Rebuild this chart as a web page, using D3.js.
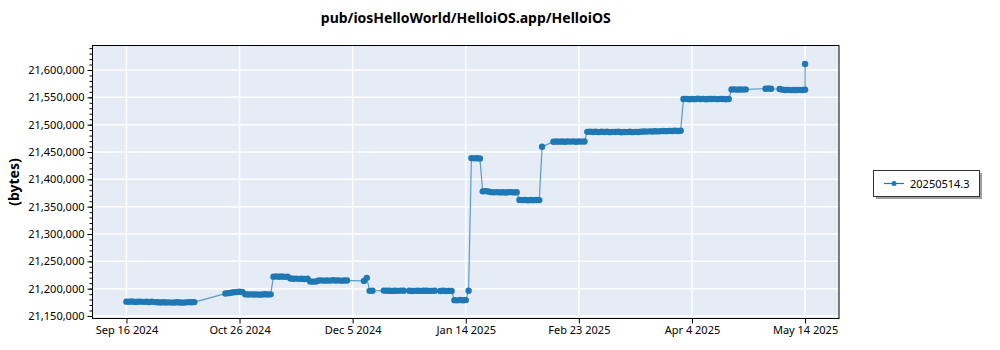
<!DOCTYPE html>
<html>
<head>
<meta charset="utf-8">
<script src="https://cdn.jsdelivr.net/npm/d3@7"></script>
<style>
  body { margin: 0; background: #fff; }
  svg { display: block; font-family: "Noto Sans", "Open Sans", sans-serif; }
</style>
</head>
<body>
<svg id="chart" width="1000" height="350"></svg>
<script>
const TITLE = "pub/iosHelloWorld/HelloiOS.app/HelloiOS";
const Y_LABEL = "(bytes)";
const SERIES_NAME = "20250514.3";

const X_TICKS = ["2024-09-16", "2024-10-26", "2024-12-05", "2025-01-14", "2025-02-23", "2025-04-04", "2025-05-14"];
const Y_TICKS = [21150000, 21200000, 21250000, 21300000, 21350000, 21400000, 21450000, 21500000, 21550000, 21600000];

// one build per entry, dates and sizes in the same order
const dates = [
  "2024-09-16", "2024-09-17", "2024-09-18", "2024-09-19", "2024-09-20", "2024-09-21", "2024-09-22", "2024-09-23",
  "2024-09-24", "2024-09-25", "2024-09-26", "2024-09-27", "2024-09-28", "2024-09-29", "2024-09-30",
  "2024-10-01", "2024-10-02", "2024-10-03", "2024-10-04", "2024-10-05", "2024-10-06", "2024-10-07", "2024-10-08",
  "2024-10-09", "2024-10-10",
  "2024-10-21", "2024-10-22", "2024-10-23", "2024-10-24", "2024-10-25", "2024-10-26", "2024-10-27",
  "2024-10-28", "2024-10-29", "2024-10-30", "2024-10-31", "2024-11-01", "2024-11-02", "2024-11-03", "2024-11-04",
  "2024-11-05", "2024-11-06",
  "2024-11-07", "2024-11-08", "2024-11-09", "2024-11-10", "2024-11-11", "2024-11-12",
  "2024-11-13", "2024-11-14", "2024-11-15", "2024-11-16", "2024-11-17", "2024-11-18", "2024-11-19",
  "2024-11-20", "2024-11-21", "2024-11-22",
  "2024-11-23", "2024-11-24", "2024-11-25", "2024-11-26", "2024-11-27", "2024-11-28", "2024-11-29", "2024-11-30",
  "2024-12-01", "2024-12-02", "2024-12-03",
  "2024-12-09", "2024-12-10",
  "2024-12-11", "2024-12-12",
  "2024-12-16", "2024-12-17", "2024-12-18", "2024-12-19", "2024-12-20", "2024-12-21", "2024-12-22", "2024-12-23",
  "2024-12-25", "2024-12-26", "2024-12-27", "2024-12-28", "2024-12-29", "2024-12-30", "2024-12-31",
  "2025-01-01", "2025-01-02", "2025-01-03",
  "2025-01-05", "2025-01-06", "2025-01-07", "2025-01-08", "2025-01-09",
  "2025-01-10", "2025-01-11", "2025-01-12", "2025-01-13", "2025-01-14",
  "2025-01-15",
  "2025-01-16", "2025-01-17", "2025-01-18", "2025-01-19",
  "2025-01-20", "2025-01-21", "2025-01-22", "2025-01-23", "2025-01-24", "2025-01-25", "2025-01-26", "2025-01-27",
  "2025-01-28", "2025-01-29", "2025-01-30", "2025-01-31", "2025-02-01",
  "2025-02-02", "2025-02-03", "2025-02-04", "2025-02-05", "2025-02-06", "2025-02-07", "2025-02-08", "2025-02-09",
  "2025-02-10",
  "2025-02-14", "2025-02-15", "2025-02-16", "2025-02-17", "2025-02-18", "2025-02-19", "2025-02-20", "2025-02-21",
  "2025-02-22", "2025-02-23", "2025-02-24", "2025-02-25",
  "2025-02-26", "2025-02-27", "2025-02-28",
  "2025-03-01", "2025-03-02", "2025-03-03", "2025-03-04", "2025-03-05", "2025-03-06", "2025-03-07", "2025-03-08",
  "2025-03-09", "2025-03-10", "2025-03-11", "2025-03-12", "2025-03-13", "2025-03-14", "2025-03-15", "2025-03-16",
  "2025-03-17", "2025-03-18", "2025-03-19", "2025-03-20", "2025-03-21", "2025-03-22", "2025-03-23", "2025-03-24",
  "2025-03-25", "2025-03-26", "2025-03-27", "2025-03-28", "2025-03-29", "2025-03-30", "2025-03-31",
  "2025-04-01", "2025-04-02", "2025-04-03", "2025-04-04", "2025-04-05", "2025-04-06", "2025-04-07", "2025-04-08",
  "2025-04-09", "2025-04-10", "2025-04-11", "2025-04-12", "2025-04-13", "2025-04-14", "2025-04-15", "2025-04-16",
  "2025-04-17",
  "2025-04-18", "2025-04-19", "2025-04-20", "2025-04-21", "2025-04-22", "2025-04-23",
  "2025-04-30", "2025-05-01", "2025-05-02",
  "2025-05-05", "2025-05-06", "2025-05-07", "2025-05-08", "2025-05-09", "2025-05-10", "2025-05-11", "2025-05-12",
  "2025-05-13", "2025-05-14",
  "2025-05-14"
];

const sizes = [
  21176200, 21176000, 21176400, 21175800, 21176100, 21176300, 21175900, 21176000,
  21175700, 21176200, 21175400, 21175100, 21174800, 21175000, 21174600,
  21174900, 21174500, 21174700, 21175200, 21174800, 21174400, 21174900, 21175300,
  21175000, 21175400,
  21191000, 21191800, 21192600, 21193400, 21194000, 21194300, 21193900,
  21189800, 21189300, 21189600, 21189200, 21189500, 21189000, 21189400, 21189700,
  21189300, 21189600,
  21222000, 21222400, 21221800, 21222200, 21221600, 21222000,
  21218600, 21218200, 21218400, 21217900, 21218100, 21217700, 21218000,
  21213200, 21212800, 21213000,
  21214800, 21215200, 21214600, 21215000, 21214700, 21215300, 21214900, 21215100,
  21214600, 21215000, 21214800,
  21214200, 21219800,
  21196000, 21196200,
  21196400, 21196100, 21196300, 21195900, 21196200, 21196000, 21196400, 21196100,
  21196300, 21195800, 21196000, 21196200, 21195900, 21196100, 21196300,
  21195900, 21196000, 21196200,
  21195800, 21196100, 21195700, 21196000, 21195600,
  21179000, 21178600, 21179200, 21178800, 21179100,
  21196200,
  21438800, 21438400, 21438600, 21438200,
  21378000, 21378400, 21377600, 21376500, 21376200, 21376600, 21376100, 21376400,
  21376000, 21376300, 21376500, 21376100, 21376400,
  21362400, 21362000, 21362300, 21361800, 21362200, 21361900, 21362100, 21362000,
  21459500,
  21468800, 21469200, 21468900, 21469300, 21468700, 21469100, 21469000, 21469400,
  21468800, 21469200, 21469000, 21469300,
  21486800, 21487200, 21486500,
  21487000, 21486400, 21486900, 21486600, 21487100, 21486300, 21486800, 21486500,
  21487000, 21486200, 21486700, 21486400, 21486900, 21486300, 21486800, 21486600,
  21487200, 21487500, 21487300, 21487800, 21487600, 21488000, 21487700, 21488200,
  21488400, 21488100, 21488600, 21488300, 21488800, 21488500, 21488900,
  21546800, 21547200, 21546600, 21547000, 21546700, 21547300, 21546900, 21547100,
  21546500, 21547000, 21546800, 21547200, 21546700, 21547100, 21546900, 21546600,
  21547000,
  21564200, 21564600, 21564000, 21564400, 21564100, 21564500,
  21565800, 21566200, 21565600,
  21565200, 21564000, 21563400, 21563600, 21563200, 21563500, 21563300, 21563600,
  21563400, 21563800,
  21611000
];

const COLOR = "#1f77b4";
const PLOT_BG = "#e5ecf6";

const parseDate = d3.timeParse("%Y-%m-%d");
const points = dates.map((d, i) => ({ date: parseDate(d), size: sizes[i] }));
if (dates.length !== sizes.length) console.warn("dates/sizes length mismatch", dates.length, sizes.length);

const svg = d3.select("#chart");
const plot = { left: 92.5, right: 839, top: 45.5, bottom: 318.5 };

const x = d3.scaleTime()
  .domain([parseDate("2024-09-04"), parseDate("2025-05-26")])
  .range([plot.left, plot.right]);
const y = d3.scaleLinear()
  .domain([21145400, 21644800])
  .range([plot.bottom, plot.top]);

// background
svg.append("rect")
  .attr("x", plot.left).attr("y", plot.top)
  .attr("width", plot.right - plot.left).attr("height", plot.bottom - plot.top)
  .attr("fill", PLOT_BG);

// grid
const grid = svg.append("g").attr("stroke", "#fff").attr("stroke-width", 1.5);
grid.selectAll("line.gx").data(X_TICKS.map(parseDate)).join("line")
  .attr("class", "gx")
  .attr("x1", (d) => x(d)).attr("x2", (d) => x(d))
  .attr("y1", plot.top).attr("y2", plot.bottom);
grid.selectAll("line.gy").data(Y_TICKS).join("line")
  .attr("class", "gy")
  .attr("x1", plot.left).attr("x2", plot.right)
  .attr("y1", (d) => y(d)).attr("y2", (d) => y(d));

// series
const line = d3.line().x((d) => x(d.date)).y((d) => y(d.size));
svg.append("path")
  .datum(points)
  .attr("fill", "none")
  .attr("stroke", COLOR)
  .attr("stroke-opacity", 0.7)
  .attr("stroke-width", 1.2)
  .attr("d", line);
svg.append("g").selectAll("circle").data(points).join("circle")
  .attr("cx", (d) => x(d.date))
  .attr("cy", (d) => y(d.size))
  .attr("r", 3.2)
  .attr("fill", COLOR);

// frame
svg.append("rect")
  .attr("x", plot.left).attr("y", plot.top)
  .attr("width", plot.right - plot.left).attr("height", plot.bottom - plot.top)
  .attr("fill", "none").attr("stroke", "#000").attr("stroke-width", 1);

// axes
const minorY = d3.range(21150000, 21640001, 10000);
const yMinor = svg.append("g")
  .attr("transform", `translate(${plot.left},0)`)
  .call(d3.axisLeft(y).tickValues(minorY).tickSize(3).tickFormat(""));
yMinor.select(".domain").remove();

const yAxis = svg.append("g")
  .attr("transform", `translate(${plot.left},0)`)
  .call(d3.axisLeft(y).tickValues(Y_TICKS).tickSize(5).tickPadding(3).tickFormat(d3.format(",")));
yAxis.select(".domain").remove();
yAxis.selectAll("text").attr("font-size", 11).attr("fill", "#000").attr("font-family", '"Noto Sans", sans-serif');

const xAxis = svg.append("g")
  .attr("transform", `translate(0,${plot.bottom})`)
  .call(d3.axisBottom(x).tickValues(X_TICKS.map(parseDate)).tickSize(5).tickPadding(3).tickFormat(d3.timeFormat("%b %-d %Y")));
xAxis.select(".domain").remove();
xAxis.selectAll("text").attr("font-size", 11).attr("fill", "#000").attr("font-family", '"Noto Sans", sans-serif');

// title and y label
svg.append("text")
  .attr("x", (plot.left + plot.right) / 2)
  .attr("y", 23)
  .attr("text-anchor", "middle")
  .attr("font-size", 14)
  .attr("font-weight", "bold")
  .text(TITLE);

svg.append("text")
  .attr("transform", `translate(19,${(plot.top + plot.bottom) / 2}) rotate(-90)`)
  .attr("text-anchor", "middle")
  .attr("font-size", 14)
  .attr("font-weight", "bold")
  .text(Y_LABEL);

// legend
const legend = svg.append("g").attr("transform", "translate(873,170)");
legend.append("rect")
  .attr("x", 3).attr("y", 3).attr("width", 106).attr("height", 26)
  .attr("fill", "#a0a0a0");
legend.append("rect")
  .attr("x", 0.5).attr("y", 0.5).attr("width", 106).attr("height", 26)
  .attr("fill", "#fff").attr("stroke", "#333");
legend.append("line")
  .attr("x1", 11).attr("x2", 31).attr("y1", 13.5).attr("y2", 13.5)
  .attr("stroke", COLOR).attr("stroke-width", 1.2);
legend.append("circle")
  .attr("cx", 21).attr("cy", 13.5).attr("r", 2.5).attr("fill", COLOR);
legend.append("text")
  .attr("x", 37).attr("y", 13.5)
  .attr("dominant-baseline", "central")
  .attr("font-size", 11)
  .text(SERIES_NAME);
</script>
</body>
</html>
